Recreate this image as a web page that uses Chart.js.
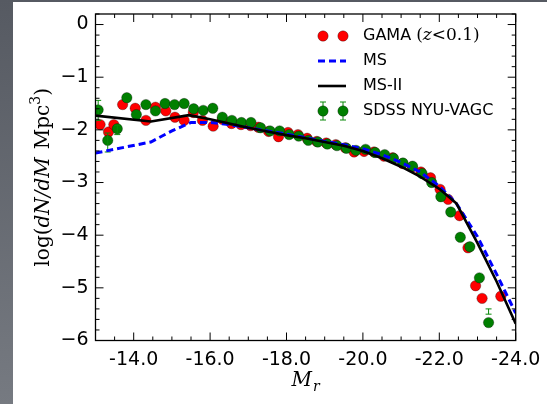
<!DOCTYPE html>
<html>
<head>
<meta charset="utf-8">
<script src="https://cdn.jsdelivr.net/npm/chart.js@4.4.1/dist/chart.umd.min.js"></script>
<style>
html, body { margin: 0; padding: 0; overflow: hidden; }
body { width: 547px; height: 404px; position: relative; background: linear-gradient(to bottom, #565a62, #767a81); }
#paper { position: absolute; left: 13px; top: 2px; width: 534px; height: 402px; background: #fff; }
#chart { position: absolute; left: 0; top: 0; }
</style>
</head>
<body>
<div id="paper"></div>
<canvas id="chart" width="547" height="404"></canvas>
<script>
// GAMA (z<0.1), red points
const gamaMag = [-13.12, -13.34, -13.48, -13.71, -14.04, -14.32, -14.57, -14.84, -15.08, -15.32,
    -15.56, -15.80, -16.08, -16.32, -16.56, -16.81, -17.06, -17.26, -17.53, -17.79,
    -18.04, -18.30, -18.54, -18.79, -19.04, -19.29, -19.54, -19.77, -20.03, -20.29,
    -20.55, -20.78, -21.04, -21.29, -21.52, -21.77, -22.02, -22.23, -22.53, -22.75,
    -22.95, -23.12, -23.61];
const gamaLogN = [-1.90, -2.04, -1.90, -1.52, -1.59, -1.82, -1.57, -1.64, -1.76, -1.82,
    -1.67, -1.82, -1.93, -1.80, -1.88, -1.90, -1.92, -1.95, -2.03, -2.13,
    -2.05, -2.09, -2.16, -2.22, -2.25, -2.28, -2.34, -2.42, -2.41, -2.42,
    -2.50, -2.53, -2.64, -2.70, -2.80, -2.91, -3.13, -3.32, -3.63, -4.24,
    -4.96, -5.20, -5.16];

// SDSS NYU-VAGC, green points
const sdssMag = [-13.07, -13.32, -13.57, -13.82, -14.07, -14.32, -14.57, -14.82, -15.07, -15.32,
    -15.57, -15.82, -16.07, -16.32, -16.57, -16.82, -17.07, -17.32, -17.57, -17.82,
    -18.07, -18.32, -18.57, -18.82, -19.07, -19.32, -19.57, -19.82, -20.07, -20.32,
    -20.57, -20.80, -21.05, -21.30, -21.55, -21.80, -22.04, -22.30, -22.55, -22.80,
    -23.05, -23.29];
const sdssLogN = [-1.62, -2.20, -1.98, -1.39, -1.71, -1.52, -1.64, -1.50, -1.52, -1.50,
    -1.60, -1.63, -1.59, -1.76, -1.82, -1.86, -1.86, -1.96, -2.02, -2.02,
    -2.09, -2.12, -2.20, -2.23, -2.27, -2.30, -2.35, -2.39, -2.37, -2.43,
    -2.47, -2.54, -2.63, -2.69, -2.83, -3.00, -3.27, -3.56, -4.04, -4.22,
    -4.81, -5.66];
// error bar ends (only the visible ones)
const sdssErrHi = [-1.44, -2.06, -1.91, null, null, null, null, null, null, null,
    null, null, null, null, null, null, null, null, null, null,
    null, null, null, null, null, null, null, null, null, null,
    null, null, null, null, null, null, null, null, null, null,
    null, -5.40];
const sdssErrLo = [-1.82, -2.42, -2.09, null, null, null, null, null, null, null,
    null, null, null, null, null, null, null, null, null, null,
    null, null, null, null, null, null, null, null, null, null,
    null, null, null, null, null, null, null, null, null, null,
    null, -5.50];

// MS, blue dashed
const msMag = [-13.0, -14.45, -15.0, -15.5, -16.0, -16.5, -17.0, -17.5, -18.0, -18.5, -19.0,
    -19.5, -20.0, -20.5, -21.0, -21.5, -22.0, -22.45, -23.0, -23.5, -24.0];
const msLogN = [-2.44, -2.23, -2.02, -1.86, -1.86, -1.90, -1.96, -2.02, -2.08, -2.15, -2.22,
    -2.28, -2.36, -2.47, -2.62, -2.80, -3.07, -3.40, -4.03, -4.74, -5.48];

// MS-II, black solid
const ms2Mag = [-13.0, -14.45, -15.45, -16.0, -16.5, -17.0, -17.5, -18.0, -18.5, -19.0,
    -19.5, -20.0, -20.5, -21.0, -21.5, -22.0, -22.45, -23.0, -23.5, -24.0];
const ms2LogN = [-1.73, -1.84, -1.72, -1.80, -1.88, -1.96, -2.03, -2.10, -2.16, -2.23,
    -2.30, -2.40, -2.54, -2.70, -2.89, -3.12, -3.40, -4.15, -4.88, -5.68];

const xTicks = [-14, -16, -18, -20, -22, -24];
const yTicks = [0, -1, -2, -3, -4, -5, -6];

const pts = (xs, ys) => xs.map((x, i) => ({ x: x, y: ys[i] }));

const SANS = "'DejaVu Sans', 'Bitstream Vera Sans', sans-serif";
const SERIF = "'DejaVu Serif', serif";
const DOT_R = 5.2;

// inward ticks on all four sides plus the frame
const frameTicks = {
    id: 'frameTicks',
    afterDraw(chart) {
        const { ctx, chartArea: a, scales: { x, y } } = chart;
        ctx.save();
        ctx.strokeStyle = '#000';
        ctx.lineWidth = 1;
        const seg = (x1, y1, x2, y2) => { ctx.beginPath(); ctx.moveTo(x1, y1); ctx.lineTo(x2, y2); ctx.stroke(); };
        for (let v = -13; v >= -24.001; v -= 0.5) {
            const px = x.getPixelForValue(v);
            const len = Math.abs(v % 2) < 1e-6 ? 8 : 4;
            seg(px, a.bottom, px, a.bottom - len);
            seg(px, a.top, px, a.top + len);
        }
        for (let v = -6; v <= 0.2001; v += 0.2) {
            const py = y.getPixelForValue(v);
            const len = Math.abs(v - Math.round(v)) < 1e-6 ? 8 : 4;
            seg(a.left, py, a.left + len, py);
            seg(a.right, py, a.right - len, py);
        }
        ctx.lineWidth = 1.3;
        ctx.strokeRect(a.left, a.top, a.right - a.left, a.bottom - a.top);

        // axis titles
        ctx.fillStyle = '#000';
        ctx.textBaseline = 'alphabetic';
        const mid = (a.left + a.right) / 2;
        ctx.font = 'italic 20px ' + SERIF;
        const wM = ctx.measureText('M').width;
        ctx.font = 'italic 14px ' + SERIF;
        const wr = ctx.measureText('r').width;
        let sx = mid - (wM + wr + 1) / 2;
        ctx.font = 'italic 20px ' + SERIF;
        ctx.fillText('M', sx, 386);
        ctx.font = 'italic 14px ' + SERIF;
        ctx.fillText('r', sx + wM + 1, 391);

        const parts = [
            ['log(', '20px ' + SERIF, 0],
            ['dN/dM', 'italic 20px ' + SERIF, 0],
            ['\u2009\u2009Mpc', '20px ' + SERIF, 0],
            ['3', '14px ' + SERIF, -9],
            [')', '20px ' + SERIF, 0]
        ];
        let total = 0;
        parts.forEach(p => { ctx.font = p[1]; p.push(ctx.measureText(p[0]).width); total += p[3]; });
        ctx.translate(49, (a.top + a.bottom) / 2);
        ctx.rotate(-Math.PI / 2);
        let tx = -total / 2;
        parts.forEach(p => { ctx.font = p[1]; ctx.fillText(p[0], tx, p[2]); tx += p[3]; });
        ctx.restore();

        // legend
        ctx.save();
        const mx1 = 323, mx2 = 343, tx0 = 363;
        const rows = [36, 61, 86, 111];
        const dot = (cx, cy, color) => {
            ctx.beginPath(); ctx.arc(cx, cy, DOT_R, 0, Math.PI * 2);
            ctx.fillStyle = color; ctx.fill();
            ctx.strokeStyle = 'rgba(0,0,0,0.45)'; ctx.lineWidth = 0.7; ctx.stroke();
        };
        dot(mx1, rows[0], '#ff0000'); dot(mx2, rows[0], '#ff0000');
        ctx.strokeStyle = '#0000ff'; ctx.lineWidth = 3; ctx.setLineDash([7, 4]);
        ctx.beginPath(); ctx.moveTo(318, rows[1]); ctx.lineTo(346, rows[1]); ctx.stroke();
        ctx.setLineDash([]);
        ctx.strokeStyle = '#000'; ctx.lineWidth = 2.6;
        ctx.beginPath(); ctx.moveTo(318, rows[2]); ctx.lineTo(346, rows[2]); ctx.stroke();
        [mx1, mx2].forEach(cx => {
            ctx.strokeStyle = '#0a8a0a'; ctx.lineWidth = 1;
            ctx.beginPath();
            ctx.moveTo(cx, rows[3] - 9); ctx.lineTo(cx, rows[3] + 9);
            ctx.moveTo(cx - 3, rows[3] - 9); ctx.lineTo(cx + 3, rows[3] - 9);
            ctx.moveTo(cx - 3, rows[3] + 9); ctx.lineTo(cx + 3, rows[3] + 9);
            ctx.stroke();
            dot(cx, rows[3], '#007f00');
        });
        ctx.fillStyle = '#000';
        ctx.textBaseline = 'middle';
        ctx.font = '16px ' + SANS;
        ctx.fillText('GAMA ', tx0, rows[0]);
        let gx = tx0 + ctx.measureText('GAMA ').width;
        const gParts = [['(', '17px ' + SERIF], ['z', 'italic 17px ' + SERIF], ['<', '17px ' + SERIF], ['0.1)', '17px ' + SERIF]];
        gParts.forEach(p => { ctx.font = p[1]; ctx.fillText(p[0], gx, rows[0]); gx += ctx.measureText(p[0]).width; });
        ctx.font = '16px ' + SANS;
        ctx.fillText('MS', tx0, rows[1]);
        ctx.fillText('MS-II', tx0, rows[2]);
        ctx.fillText('SDSS NYU-VAGC', tx0, rows[3]);
        ctx.restore();
    }
};

// error bars for the SDSS points, drawn right after that dataset
const errorBars = {
    id: 'errorBars',
    afterDatasetDraw(chart, args) {
        if (chart.data.datasets[args.index].label !== 'SDSS NYU-VAGC') return;
        const { ctx, scales: { x, y } } = chart;
        ctx.save();
        ctx.strokeStyle = '#0a8a0a';
        ctx.lineWidth = 1;
        sdssMag.forEach((m, i) => {
            if (sdssErrHi[i] === null) return;
            const px = x.getPixelForValue(m);
            const y1 = y.getPixelForValue(sdssErrHi[i]);
            const y2 = y.getPixelForValue(sdssErrLo[i]);
            ctx.beginPath();
            ctx.moveTo(px, y1); ctx.lineTo(px, y2);
            ctx.moveTo(px - 3, y1); ctx.lineTo(px + 3, y1);
            ctx.moveTo(px - 3, y2); ctx.lineTo(px + 3, y2);
            ctx.stroke();
        });
        ctx.restore();
    }
};

const chartCanvas = document.getElementById('chart');

new Chart(chartCanvas, {
    type: 'scatter',
    data: {
        datasets: [
            {
                label: 'MS-II',
                data: pts(ms2Mag, ms2LogN),
                showLine: true,
                borderColor: '#000',
                borderWidth: 2.6,
                borderJoinStyle: 'round',
                pointRadius: 0,
                order: 0
            },
            {
                label: 'MS',
                data: pts(msMag, msLogN),
                showLine: true,
                borderColor: '#0000ff',
                borderWidth: 3,
                borderDash: [7, 4],
                pointRadius: 0,
                order: 1
            },
            {
                label: 'SDSS NYU-VAGC',
                data: pts(sdssMag, sdssLogN),
                backgroundColor: '#007f00',
                borderColor: 'rgba(0,0,0,0.45)',
                borderWidth: 0.7,
                pointRadius: DOT_R,
                order: 2
            },
            {
                label: 'GAMA (z<0.1)',
                data: pts(gamaMag, gamaLogN),
                backgroundColor: '#ff0000',
                borderColor: 'rgba(0,0,0,0.45)',
                borderWidth: 0.7,
                pointRadius: DOT_R,
                order: 3
            }
        ]
    },
    options: {
        responsive: false,
        animation: false,
        events: [],
        layout: { padding: { left: 0, top: 14, right: 31.3, bottom: 0 } },
        plugins: { legend: { display: false }, tooltip: { enabled: false } },
        scales: {
            x: {
                type: 'linear',
                min: -24,
                max: -13,
                reverse: true,
                grid: { display: false, drawTicks: false },
                border: { display: false },
                afterBuildTicks: s => { s.ticks = xTicks.map(v => ({ value: v })); },
                afterFit: s => { s.height = 63.5; s.paddingLeft = 0; s.paddingRight = 0; },
                ticks: {
                    padding: 8,
                    color: '#000',
                    font: { family: SANS, size: 19 },
                    maxRotation: 0,
                    callback: v => v.toFixed(1)
                }
            },
            y: {
                type: 'linear',
                min: -6,
                max: 0.2,
                grid: { display: false, drawTicks: false },
                border: { display: false },
                afterBuildTicks: s => { s.ticks = yTicks.map(v => ({ value: v })); },
                afterFit: s => { s.width = 95.5; s.paddingTop = 0; s.paddingBottom = 0; },
                ticks: {
                    padding: 7,
                    color: '#000',
                    font: { family: SANS, size: 19 },
                    callback: v => (v < 0 ? '\u2212' + Math.abs(v) : String(v))
                }
            }
        }
    },
    plugins: [errorBars, frameTicks]
});
</script>
</body>
</html>
